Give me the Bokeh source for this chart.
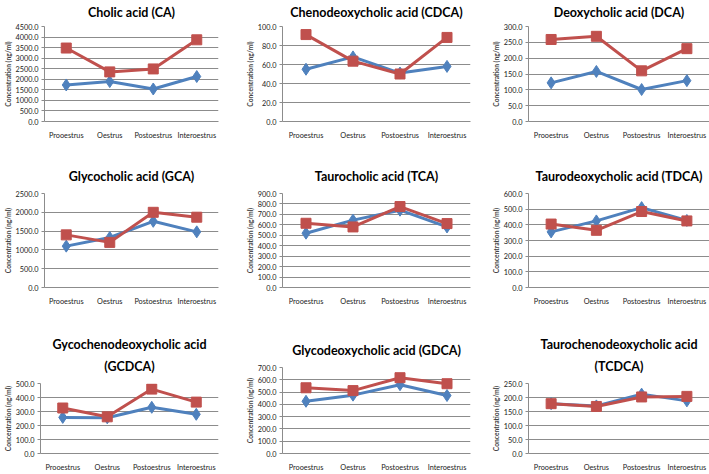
from bokeh.plotting import figure
from bokeh.layouts import column, row
from bokeh.models import Range1d, FactorRange, SingleIntervalTicker, PrintfTickFormatter, Title
from bokeh.embed import file_html
from bokeh.resources import INLINE

stages = ["Prooestrus", "Oestrus", "Postoestrus", "Interoestrus"]

titles = [
    ["Cholic acid (CA)"], ["Chenodeoxycholic acid (CDCA)"], ["Deoxycholic acid (DCA)"],
    ["Glycocholic acid (GCA)"], ["Taurocholic acid (TCA)"], ["Taurodeoxycholic acid (TDCA)"],
    ["Gycochenodeoxycholic acid", "(GCDCA)"], ["Glycodeoxycholic acid (GDCA)"],
    ["Taurochenodeoxycholic acid", "(TCDCA)"],
]
y_max = [4500, 100, 300, 2500, 900, 600, 500, 700, 250]
y_step = [500, 20, 50, 500, 100, 100, 100, 100, 50]

ca_blue = [1730, 1890, 1540, 2130]
ca_red = [3480, 2350, 2490, 3870]
cdca_blue = [55, 68, 51, 58]
cdca_red = [91.5, 63.5, 50, 88.5]
dca_blue = [122, 158, 101, 129]
dca_red = [259, 269, 160, 230]
gca_blue = [1100, 1330, 1760, 1480]
gca_red = [1400, 1200, 2000, 1870]
tca_blue = [520, 645, 740, 580]
tca_red = [615, 580, 775, 612]
tdca_blue = [355, 425, 510, 428]
tdca_red = [405, 365, 485, 425]
gcdca_blue = [258, 255, 330, 280]
gcdca_red = [325, 262, 460, 367]
gdca_blue = [425, 475, 560, 472]
gdca_red = [535, 512, 617, 568]
tcdca_blue = [178, 170, 212, 188]
tcdca_red = [178, 168, 202, 204]

blues = [ca_blue, cdca_blue, dca_blue, gca_blue, tca_blue, tdca_blue, gcdca_blue, gdca_blue, tcdca_blue]
reds = [ca_red, cdca_red, dca_red, gca_red, tca_red, tdca_red, gcdca_red, gdca_red, tcdca_red]

BLUE = "#4F81BD"
RED = "#C0504D"
GRID = "#8c8c8c"
FONT = "Lato"

# layout (sizes only)
widths = [242, 246, 221]
lefts = [38, 40, 35]
rights = [24, 18, 0]
row_h = [160, 170, 144]
tops = [[26, 26, 26], [33, 33, 33], [53, 37, 53]]
bottoms = [39, 43, 12]
title_standoff = [9, 15, 15]


def style_title(t, standoff):
    t.align = "center"
    t.vertical_align = "top"
    t.offset = -19
    t.text_font = FONT
    t.text_font_size = "12.5px"
    t.text_font_style = "bold"
    t.text_color = "#000000"
    t.standoff = standoff


def panel(i, w, h, top, bottom, left, right, so):
    p = figure(width=w, height=h, x_range=FactorRange(*stages),
               y_range=Range1d(0, y_max[i]), output_backend="svg",
               toolbar_location=None, min_border_top=top, min_border_bottom=bottom,
               min_border_left=left, min_border_right=right)
    lines = titles[i]
    p.title.text = lines[0]
    if len(lines) == 1:
        style_title(p.title, so)
    else:
        style_title(p.title, -4)
        t = Title(text=lines[1])
        style_title(t, so)
        p.add_layout(t, "above")
    p.outline_line_color = None
    p.xgrid.grid_line_color = None
    p.ygrid.grid_line_color = GRID
    p.ygrid.grid_line_width = 1
    p.yaxis.ticker = SingleIntervalTicker(interval=y_step[i])
    p.yaxis.formatter = PrintfTickFormatter(format="%.1f")
    p.yaxis.axis_label = "Concentration (ng/ml)"
    p.yaxis.axis_label_text_font = FONT
    p.yaxis.axis_label_text_font_size = "6.7px"
    p.yaxis.axis_label_text_font_style = "bold"
    p.yaxis.axis_label_standoff = 1
    p.yaxis.minor_tick_line_color = None
    for ax in (p.xaxis, p.yaxis):
        ax.axis_line_color = GRID
        ax.major_tick_line_color = GRID
        ax.major_tick_out = 3
        ax.major_tick_in = 0
        ax.major_label_text_font = FONT
        ax.major_label_text_font_size = "7.3px"
        ax.major_label_text_color = "#222222"
        ax.major_label_standoff = 2
    p.xaxis.major_tick_line_color = None
    p.xaxis.major_label_standoff = 6
    p.line(stages, blues[i], line_color=BLUE, line_width=3)
    p.scatter(stages, blues[i], marker="diamond", size=12, fill_color=BLUE, line_color=BLUE)
    p.line(stages, reds[i], line_color=RED, line_width=3)
    p.scatter(stages, reds[i], marker="square", size=10, fill_color=RED, line_color=RED)
    return p


rows = []
for r in range(3):
    cells = []
    for c in range(3):
        i = r * 3 + c
        f = panel(i, widths[c], row_h[r], tops[r][c], bottoms[r], lefts[c], rights[c], title_standoff[r])
        cells.append(column(f))
    rows.append(row(*cells))
layout = column(*rows)

open("out.html", "w").write(file_html(layout, INLINE))
